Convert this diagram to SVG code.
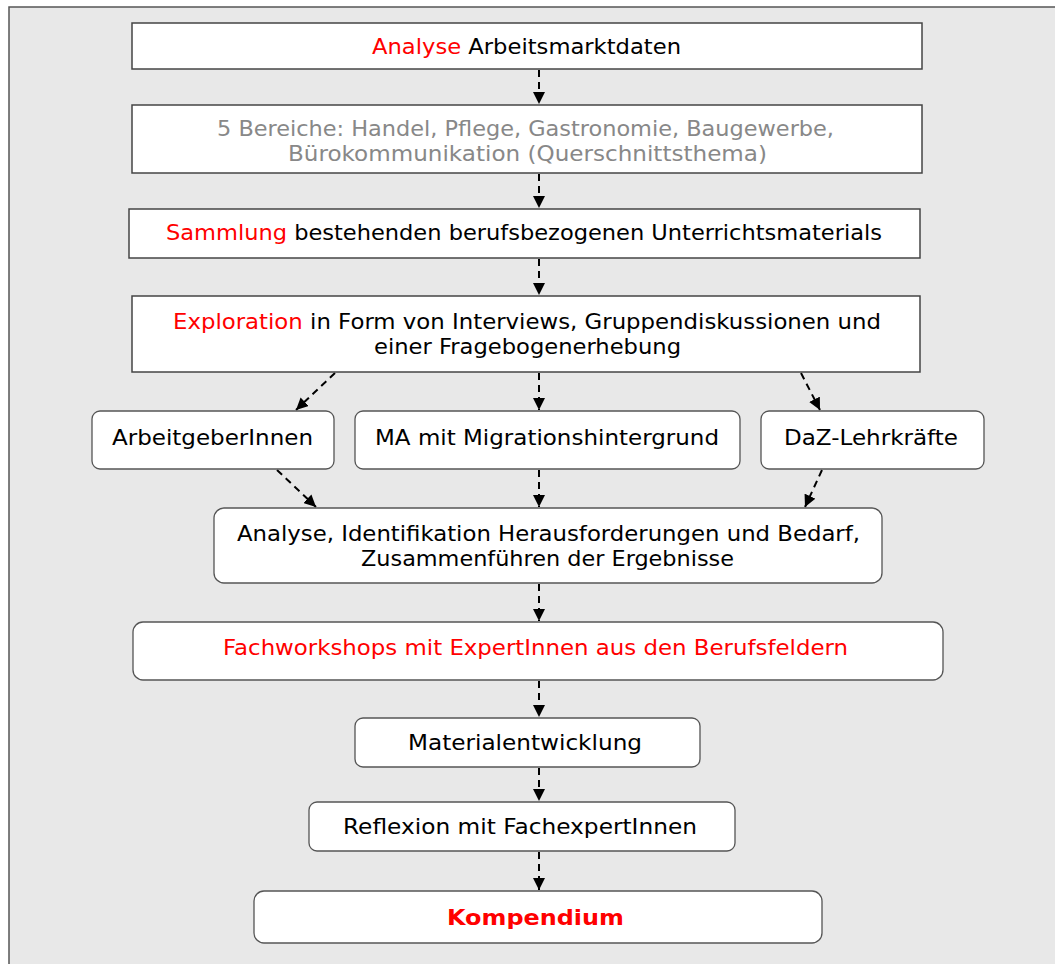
<svg xmlns="http://www.w3.org/2000/svg" width="1055" height="964" viewBox="0 0 1055 964">
<defs>
<marker id="arr" viewBox="0 0 12 12" refX="12" refY="6" markerWidth="12" markerHeight="12" markerUnits="userSpaceOnUse" orient="auto">
<path d="M0,0 L12,6 L0,12 z" fill="#000"/>
</marker>
<style>
.bg{fill:#e8e8e8;stroke:#555;stroke-width:1.5}
.box{fill:#fff;stroke:#444;stroke-width:1.5}
.rbox{fill:#fff;stroke:#555;stroke-width:1.3}
text{font-family:"DejaVu Sans",Verdana,sans-serif;font-size:21px;fill:#000;text-anchor:middle}
.red{fill:#ff0000}
.gray{fill:#888}
.bold{font-weight:bold}
.con{stroke:#000;stroke-width:2;stroke-dasharray:7,5;fill:none;marker-end:url(#arr)}
</style>
</defs>
<rect class="bg" x="9" y="7" width="1060" height="970"/>
<g id="connectors">
<line class="con" x1="539" y1="70" x2="539" y2="104"/>
<line class="con" x1="539" y1="174" x2="539" y2="208"/>
<line class="con" x1="539" y1="259" x2="539" y2="295"/>
<line class="con" x1="335" y1="373" x2="296" y2="410"/>
<line class="con" x1="539" y1="373" x2="539" y2="410"/>
<line class="con" x1="801" y1="373" x2="820" y2="410"/>
<line class="con" x1="277" y1="470" x2="316" y2="507"/>
<line class="con" x1="539" y1="470" x2="539" y2="507"/>
<line class="con" x1="822" y1="470" x2="805" y2="507"/>
<line class="con" x1="539" y1="584" x2="539" y2="621"/>
<line class="con" x1="539" y1="681" x2="539" y2="717"/>
<line class="con" x1="539" y1="768" x2="539" y2="801"/>
<line class="con" x1="539" y1="852" x2="539" y2="890"/>
</g>
<g id="n1">
<rect class="box" x="132" y="23" width="790" height="46"/>
<text x="526.5" y="53.5" textLength="309" lengthAdjust="spacingAndGlyphs"><tspan class="red">Analyse</tspan> Arbeitsmarktdaten</text>
</g>
<g id="n2">
<rect class="box" x="132" y="105" width="790" height="68"/>
<text class="gray" x="525.5" y="135.5" textLength="617" lengthAdjust="spacingAndGlyphs">5 Bereiche: Handel, Pflege, Gastronomie, Baugewerbe,</text>
<text class="gray" x="527.5" y="160.5" textLength="479" lengthAdjust="spacingAndGlyphs">Bürokommunikation (Querschnittsthema)</text>
</g>
<g id="n3">
<rect class="box" x="129" y="209" width="791" height="49"/>
<text x="524" y="239.5" textLength="716" lengthAdjust="spacingAndGlyphs"><tspan class="red">Sammlung</tspan> bestehenden berufsbezogenen Unterrichtsmaterials</text>
</g>
<g id="n4">
<rect class="box" x="132" y="296" width="788" height="76"/>
<text x="527" y="328.5" textLength="708" lengthAdjust="spacingAndGlyphs"><tspan class="red">Exploration</tspan> in Form von Interviews, Gruppendiskussionen und</text>
<text x="527.5" y="353.5" textLength="307" lengthAdjust="spacingAndGlyphs">einer Fragebogenerhebung</text>
</g>
<g id="n5">
<rect class="rbox" x="92" y="411" width="242" height="58" rx="8"/>
<text x="212.5" y="444.5" textLength="201" lengthAdjust="spacingAndGlyphs">ArbeitgeberInnen</text>
</g>
<g id="n6">
<rect class="rbox" x="355" y="411" width="385" height="58" rx="8"/>
<text x="547" y="444.5" textLength="344" lengthAdjust="spacingAndGlyphs">MA mit Migrationshintergrund</text>
</g>
<g id="n7">
<rect class="rbox" x="761" y="411" width="223" height="58" rx="8"/>
<text x="871" y="444.5" textLength="174" lengthAdjust="spacingAndGlyphs">DaZ-Lehrkräfte</text>
</g>
<g id="n8">
<rect class="rbox" x="214" y="508" width="668" height="75" rx="10"/>
<text x="548.5" y="540.5" textLength="623" lengthAdjust="spacingAndGlyphs">Analyse, Identifikation Herausforderungen und Bedarf,</text>
<text x="547.5" y="565.5" textLength="373" lengthAdjust="spacingAndGlyphs">Zusammenführen der Ergebnisse</text>
</g>
<g id="n9">
<rect class="rbox" x="133" y="622" width="810" height="58" rx="10"/>
<text class="red" x="535.5" y="654.5" textLength="625" lengthAdjust="spacingAndGlyphs">Fachworkshops mit ExpertInnen aus den Berufsfeldern</text>
</g>
<g id="n10">
<rect class="rbox" x="355" y="718" width="345" height="49" rx="8"/>
<text x="525" y="749.5" textLength="234" lengthAdjust="spacingAndGlyphs">Materialentwicklung</text>
</g>
<g id="n11">
<rect class="rbox" x="309" y="802" width="426" height="49" rx="8"/>
<text x="520" y="833.5" textLength="354" lengthAdjust="spacingAndGlyphs">Reflexion mit FachexpertInnen</text>
</g>
<g id="n12">
<rect class="rbox" x="254" y="891" width="568" height="52" rx="10"/>
<text class="red bold" x="535.5" y="924.5" textLength="177" lengthAdjust="spacingAndGlyphs">Kompendium</text>
</g>
</svg>
